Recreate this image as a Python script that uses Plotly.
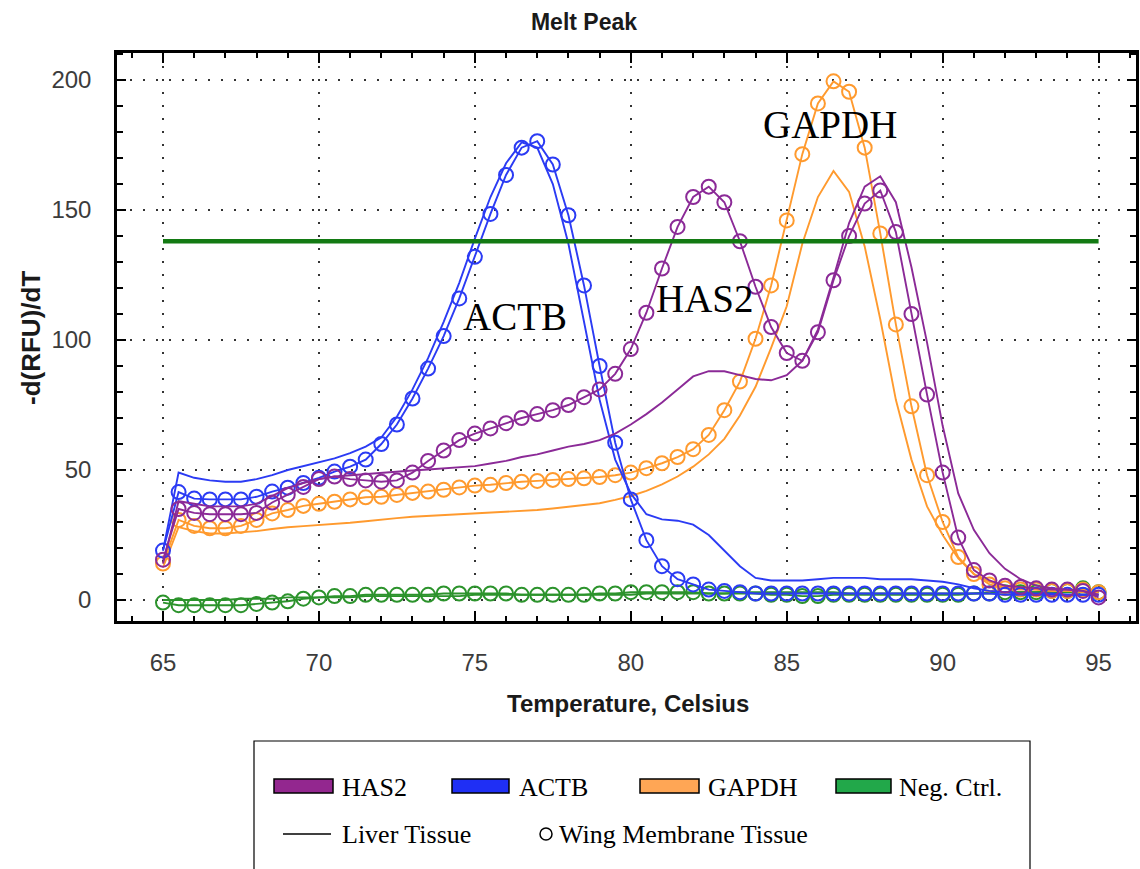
import plotly.graph_objects as go

# ---------------- data ----------------
temps = [65, 65.5, 66, 66.5, 67, 67.5, 68, 68.5, 69, 69.5, 70, 70.5, 71, 71.5, 72, 72.5,
         73, 73.5, 74, 74.5, 75, 75.5, 76, 76.5, 77, 77.5, 78, 78.5, 79, 79.5, 80, 80.5,
         81, 81.5, 82, 82.5, 83, 83.5, 84, 84.5, 85, 85.5, 86, 86.5, 87, 87.5, 88, 88.5,
         89, 89.5, 90, 90.5, 91, 91.5, 92, 92.5, 93, 93.5, 94, 94.5, 95]

has2_wing = [15.5, 35, 33.5, 33, 33, 33, 33.5, 37.5, 40.5, 43.5, 46.5, 47.5, 46.5, 46, 45.5, 46,
             49, 53.5, 57.5, 61.5, 64, 66, 68, 70, 71.5, 73, 75, 78, 81, 87, 96.5, 110.5,
             127.5, 143.5, 155, 159, 153, 138, 120.5, 105, 95, 92, 103, 123, 140, 152.5, 157.5, 141.5,
             110, 79, 49, 24, 11.5, 7.5, 5.5, 5, 4.5, 4, 4, 3.5, 1]
has2_liver = [14, 38, 37, 36, 36, 36, 37, 40, 43, 45, 46.5, 47.5, 48, 48.5, 49, 49.3,
              49.8, 50.2, 50.7, 51, 51.5, 52.5, 53.5, 55, 56, 57.5, 59, 60, 61.5, 64, 67.5, 71.5,
              76, 81, 86, 88, 88, 86.5, 85, 84.5, 86.5, 92, 104, 124, 145, 159, 163, 153,
              128, 99, 67, 41, 27, 18, 12, 8, 5.5, 4.5, 4, 3.5, 2]

actb_wing = [19, 41.5, 39, 38.7, 38.7, 38.7, 39.7, 41.7, 43.2, 45, 47, 49.4, 51.3, 54, 60, 67.5,
             77.5, 89, 101.5, 116, 132, 148.5, 163.5, 174, 176.5, 167.5, 148, 121, 90, 60.5, 38.7, 23,
             13, 8, 6, 4, 3.5, 3, 2.5, 2.5, 2.5, 2.5, 2.5, 2.5, 2.5, 2.5, 2.5, 2.5,
             2.5, 2.5, 2.5, 2.5, 2.5, 2.5, 2, 2, 2, 2, 2, 2, 2]
actb_liver = [19, 49, 47, 46, 45.5, 45.5, 46.5, 48, 50, 51.5, 53, 54.5, 56.5, 59, 62.5, 70.5,
              81, 93, 107, 122, 139, 155, 168, 176, 174, 160, 137, 107, 77, 54, 41, 33,
              31, 30.5, 29, 25, 19, 13, 8.5, 7.5, 7.5, 7.5, 8, 8.5, 8.5, 8.5, 8, 8,
              8, 7.5, 7, 6, 4.5, 3.5, 3, 2.5, 2.5, 2.5, 2, 2, 2]

gapdh_wing = [14, 30.8, 28.5, 27.6, 27.6, 28.5, 30.8, 33.3, 34.6, 36.2, 37, 37.8, 38.7, 39.5, 39.7, 40.4,
              41.2, 41.7, 42.4, 43.3, 44, 44.3, 45, 45.5, 45.8, 46.2, 46.5, 46.8, 47.3, 48, 49, 50.7,
              52.6, 55, 58, 63.5, 73, 84, 100.5, 121, 146, 171.5, 191, 199.5, 195.5, 174, 141, 106,
              74.5, 48, 30, 16.5, 10, 6, 4.5, 4, 4, 3.5, 3.5, 4, 3]
gapdh_liver = [12.5, 28, 26.5, 25.6, 25.6, 26, 26.5, 27.3, 28, 28.4, 28.8, 29.2, 29.7, 30.3, 31, 31.5,
               32, 32.3, 32.7, 33, 33.3, 33.7, 34, 34.3, 34.6, 35.2, 35.8, 36.5, 37.2, 38.5, 40, 42,
               44.5, 47.5, 51.3, 56, 62, 71, 82, 97, 113, 137, 155, 165, 157, 136, 108, 77,
               54, 36, 25, 16, 10, 7, 5, 4.5, 4, 3.5, 3.5, 3, 3]

neg_wing = [-1, -2, -2, -2, -2, -2, -1.5, -1, -0.5, 0.5, 1, 1.5, 1.5, 2, 2, 2,
            2, 2, 2.5, 2.5, 2.5, 2.5, 2.5, 2, 2, 2, 2, 2, 2.5, 2.5, 3, 3,
            3, 3, 3, 2.5, 2.5, 2.5, 2.5, 2, 2, 1.5, 1.5, 2, 2, 2, 2, 2,
            2, 2, 2, 2, 2.5, 2.5, 3, 3, 3, 3.5, 3.5, 4.5, 3]
neg_liver = [0, 0, 0, 0, 0, 0.5, 0.5, 0.5, 1, 1, 1, 1, 1, 1.5, 1.5, 1.5,
             1.5, 1.5, 1.5, 1.5, 2, 2, 2, 2, 2, 2, 2, 2, 2, 2, 2, 2.5,
             2.5, 2.5, 2.5, 2.5, 2.5, 3, 3, 3, 3, 3, 3, 3, 2.5, 2.5, 2.5, 2.5,
             2.5, 2.5, 2.5, 2.5, 2.5, 3, 3, 3, 3, 3, 3, 3, 3]

threshold_x = [65, 95]
threshold_y = [138, 138]

genes = ["HAS2", "ACTB", "GAPDH", "Neg. Ctrl."]
tissue_labels = ["Liver Tissue", "Wing Membrane Tissue"]
x_ticks = [65, 70, 75, 80, 85, 90, 95]
y_ticks = [0, 50, 100, 150, 200]

# ---------------- style ----------------
COL = {"HAS2": "#8B2A97", "ACTB": "#2B3BF4", "GAPDH": "#FF9A2E", "Neg. Ctrl.": "#2C932C"}
SWATCH = {"HAS2": "#93278F", "ACTB": "#1F2FF5", "GAPDH": "#FFA655", "Neg. Ctrl.": "#22A84A"}

W, H = 1140, 869
L, R, T, B = 117, 1136, 53, 621
XR = [63.525, 96.20]
YR = [-8.08, 210.4]

def pxx(x):
    return (x - L) / (R - L)

def pxy(y):
    return (B - y) / (B - T)

fig = go.Figure()

series = [
    ("Neg. Ctrl.", neg_liver, neg_wing),
    ("GAPDH", gapdh_liver, gapdh_wing),
    ("ACTB", actb_liver, actb_wing),
    ("HAS2", has2_liver, has2_wing),
]
for name, liver, wing in series:
    c = COL[name]
    fig.add_trace(go.Scatter(x=temps, y=liver, mode="lines", line=dict(color=c, width=1.9),
                             showlegend=False, hoverinfo="skip"))
    fig.add_trace(go.Scatter(x=temps, y=wing, mode="lines+markers", line=dict(color=c, width=1.9),
                             marker=dict(symbol="circle-open", size=14, color=c, line=dict(width=2)),
                             showlegend=False, hoverinfo="skip"))

fig.add_trace(go.Scatter(x=threshold_x, y=threshold_y, mode="lines",
                         line=dict(color="#137A13", width=4.5), showlegend=False, hoverinfo="skip"))

grid = dict(showgrid=True, gridcolor="#333333", gridwidth=2.2, griddash="2.2px,10.8px")
tickfont = dict(family="Liberation Sans, Arial, sans-serif", size=24, color="#3c3c3c")

fig.update_layout(
    width=W, height=H,
    margin=dict(l=L, r=W - R, t=T, b=H - B, autoexpand=False),
    paper_bgcolor="white", plot_bgcolor="white",
    xaxis=dict(range=XR, tickvals=x_ticks, ticks="inside", ticklen=10, tickwidth=2, tickcolor="black",
               mirror="allticks", showline=True, linewidth=2.5, linecolor="black", zeroline=False,
               minor=dict(dtick=1, tick0=65, ticks="inside", ticklen=5, tickwidth=1.5, tickcolor="black",
                          showgrid=False),
               tickfont=tickfont, ticklabelstandoff=18, **grid),
    yaxis=dict(range=YR, tickvals=y_ticks, ticks="inside", ticklen=9, tickwidth=2, tickcolor="black",
               mirror="allticks", showline=True, linewidth=2.5, linecolor="black", zeroline=False,
               minor=dict(dtick=10, tick0=0, ticks="inside", ticklen=6, tickwidth=1.5, tickcolor="black",
                          showgrid=False),
               tickfont=tickfont, ticklabelstandoff=18, **grid),
    xaxis2=dict(overlaying="x", anchor="y", side="bottom", range=XR, tickvals=x_ticks,
                ticks="outside", ticklen=8, tickwidth=2, tickcolor="black", showticklabels=False,
                showgrid=False, showline=False, zeroline=False,
                minor=dict(dtick=1, tick0=65, ticks="outside", ticklen=5, tickwidth=1.5,
                           tickcolor="black", showgrid=False)),
    yaxis2=dict(overlaying="y", anchor="x", side="left", range=YR, tickvals=y_ticks,
                ticks="outside", ticklen=8, tickwidth=2, tickcolor="black", showticklabels=False,
                showgrid=False, showline=False, zeroline=False,
                minor=dict(dtick=10, tick0=0, ticks="outside", ticklen=5, tickwidth=1.5,
                           tickcolor="black", showgrid=False)),
    title=dict(text="<b>Melt Peak</b>", x=584 / W, xanchor="center", y=1 - 22 / H, yanchor="middle",
               font=dict(family="Liberation Sans, Arial, sans-serif", size=23, color="#1a1a1a")),
    showlegend=False,
)

ann = []
# axis titles
ann.append(dict(text="<b>Temperature, Celsius</b>", xref="paper", yref="paper",
                x=pxx(628), y=pxy(703), xanchor="center", yanchor="middle", showarrow=False,
                font=dict(family="Liberation Sans, Arial, sans-serif", size=24, color="#1a1a1a")))
ann.append(dict(text="<b>-d(RFU)/dT</b>", xref="paper", yref="paper", textangle=-90,
                x=pxx(31), y=pxy(338), xanchor="center", yanchor="middle", showarrow=False,
                font=dict(family="Liberation Sans, Arial, sans-serif", size=26, color="#1a1a1a")))
# curve labels
serif = "Liberation Serif, Times New Roman, serif"
for txt, cx, cy in [("ACTB", 514.5, 316), ("HAS2", 704.5, 298), ("GAPDH", 829.5, 124)]:
    ann.append(dict(text=txt, xref="paper", yref="paper", x=pxx(cx), y=pxy(cy),
                    xanchor="center", yanchor="middle", showarrow=False,
                    font=dict(family=serif, size=39, color="black")))

shapes = []
# legend box
shapes.append(dict(type="rect", xref="paper", yref="paper", x0=pxx(254), x1=pxx(1030),
                   y0=pxy(741), y1=pxy(900), line=dict(color="black", width=1.2),
                   fillcolor="white", layer="above"))
legend_row1 = [(274, 333, 340), (452, 509, 517), (640, 699, 706), (836, 891, 897)]
for g, (sx0, sx1, tx) in zip(genes, legend_row1):
    shapes.append(dict(type="rect", xref="paper", yref="paper", x0=pxx(sx0), x1=pxx(sx1),
                       y0=pxy(779), y1=pxy(793), line=dict(color="black", width=1.5),
                       fillcolor=SWATCH[g], layer="above"))
    ann.append(dict(text=g, xref="paper", yref="paper", x=pxx(tx), y=pxy(787),
                    xanchor="left", yanchor="middle", showarrow=False,
                    font=dict(family=serif, size=26, color="black")))
shapes.append(dict(type="line", xref="paper", yref="paper", x0=pxx(283), x1=pxx(331),
                   y0=pxy(834), y1=pxy(834), line=dict(color="black", width=1.5), layer="above"))
ann.append(dict(text=tissue_labels[0], xref="paper", yref="paper", x=pxx(340), y=pxy(834),
                xanchor="left", yanchor="middle", showarrow=False,
                font=dict(family=serif, size=26, color="black")))
shapes.append(dict(type="circle", xref="paper", yref="paper", x0=pxx(540), x1=pxx(552),
                   y0=pxy(828), y1=pxy(840), line=dict(color="black", width=1.5), layer="above"))
ann.append(dict(text=tissue_labels[1], xref="paper", yref="paper", x=pxx(557), y=pxy(834),
                xanchor="left", yanchor="middle", showarrow=False,
                font=dict(family=serif, size=26, color="black")))

fig.update_layout(annotations=ann, shapes=shapes)

fig.write_html("out.html")
